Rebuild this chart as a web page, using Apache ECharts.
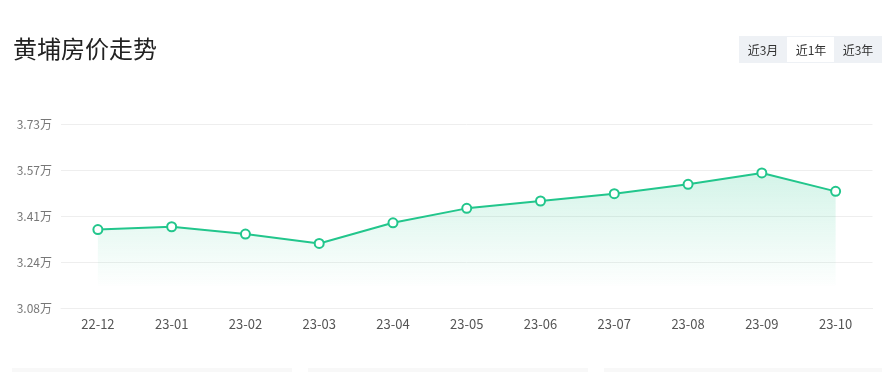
<!DOCTYPE html>
<html>
<head>
<meta charset="utf-8">
<script src="https://cdn.jsdelivr.net/npm/echarts@6/dist/echarts.min.js"></script>
<style>
html,body{margin:0;padding:0;background:#fff;}
#main{width:891px;height:372px;}
</style>
</head>
<body>
<div id="main"></div>
<script>
const categories = ['22-12','23-01','23-02','23-03','23-04','23-05','23-06','23-07','23-08','23-09','23-10'];
const prices = [3.357, 3.367, 3.341, 3.308, 3.381, 3.432, 3.458, 3.484, 3.517, 3.557, 3.492];
const yTickLabels = ['3.08万','3.24万','3.41万','3.57万','3.73万'];
const yMin = 3.08, yMax = 3.73;
const buttons = ['近3月','近1年','近3年'];

const FONT = '"Noto Sans CJK SC", "Microsoft YaHei", sans-serif';
const chart = echarts.init(document.getElementById('main'));

const graphics = [
  { type:'rect', shape:{x:739,y:36,width:143,height:27}, style:{fill:'#eef1f5'} },
  { type:'rect', shape:{x:787,y:37,width:47,height:25}, style:{fill:'#ffffff'} },
  { type:'rect', shape:{x:12,y:368,width:280,height:4}, style:{fill:'#f8f8f8'} },
  { type:'rect', shape:{x:308,y:368,width:280,height:4}, style:{fill:'#f8f8f8'} },
  { type:'rect', shape:{x:604,y:368,width:278,height:4}, style:{fill:'#f8f8f8'} }
];
const btnX = [763, 811, 858];
buttons.forEach((b, i) => {
  graphics.push({ type:'text', x:btnX[i], y:50, style:{text:b, fill:'#333', font:'12px ' + FONT, align:'center', verticalAlign:'middle'} });
});

chart.setOption({
  animation:false,
  title:{ text:'黄埔房价走势', left:13, top:37, padding:0, textStyle:{fontSize:24, fontWeight:'normal', color:'#222', fontFamily:FONT} },
  grid:{ left:61, right:18.5, top:124, bottom:64 },
  xAxis:{
    type:'category', data:categories, boundaryGap:true,
    axisLine:{ lineStyle:{ color:'#eeeeee' } },
    axisTick:{ show:false },
    axisLabel:{ color:'#555', fontSize:13, margin:10, fontFamily:FONT }
  },
  yAxis:{
    type:'value', min:yMin, max:yMax, interval:(yMax - yMin) / 4,
    axisLine:{ show:false }, axisTick:{ show:false },
    splitLine:{ lineStyle:{ color:'#eeeeee' } },
    axisLabel:{ color:'#777', fontSize:12, margin:9, fontFamily:FONT,
      formatter:(v, i) => yTickLabels[i] }
  },
  graphic: graphics,
  series:[{
    type:'line', data:prices,
    symbol:'emptyCircle', symbolSize:9,
    lineStyle:{ color:'#22c68c', width:2 },
    itemStyle:{ color:'#22c68c', borderColor:'#5fd6aa', borderWidth:1.1 },
    areaStyle:{ origin:3.16, color:new echarts.graphic.LinearGradient(0,0,0,1,[
      {offset:0, color:'rgba(34,198,140,0.28)'},
      {offset:1, color:'rgba(34,198,140,0.01)'}
    ]) }
  }]
});
</script>
</body>
</html>
